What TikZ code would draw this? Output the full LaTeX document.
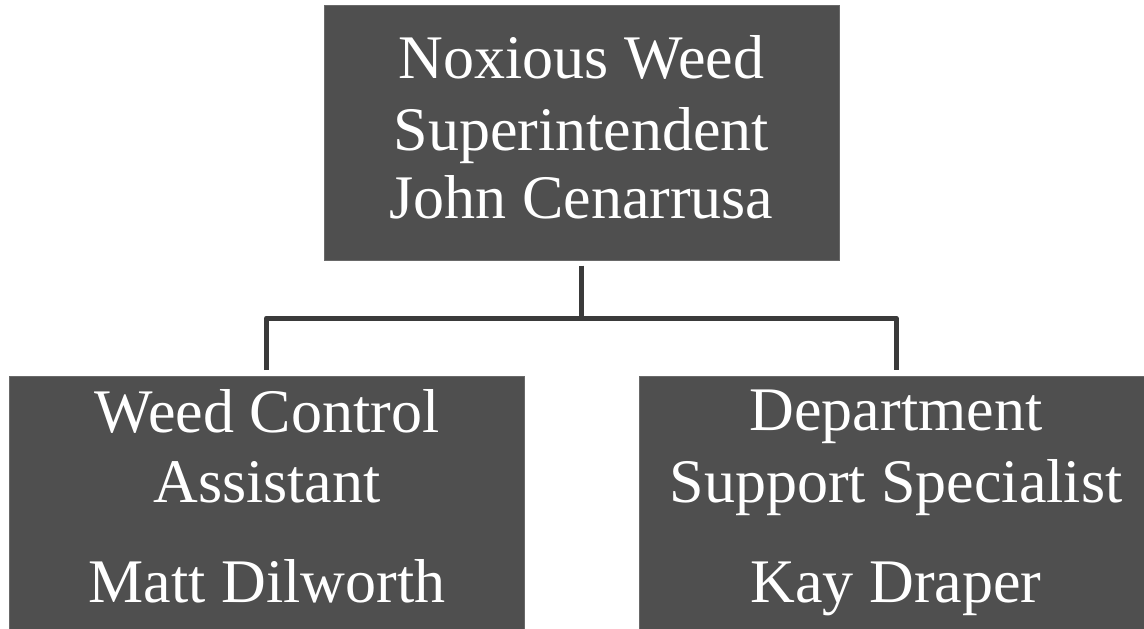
\documentclass[tikz,border=0pt]{standalone}
\usepackage{fontspec}
\setmainfont{Liberation Serif}
\definecolor{boxfill}{RGB}{79,79,79}
\definecolor{boxedge}{RGB}{105,105,105}
\definecolor{linecol}{RGB}{58,58,58}
\begin{document}
\begin{tikzpicture}[x=1pt,y=-1pt,
  orgbox/.style={rectangle, fill=boxfill, draw=boxedge, line width=1pt, inner sep=0pt},
  orgtext/.style={anchor=base, text=white, font=\fontsize{62}{62}\selectfont, inner sep=0pt},
  conn/.style={draw=linecol, line width=5pt, line join=round}]
\useasboundingbox (0,0) rectangle (1144,629);
\node[orgbox, minimum width=515pt, minimum height=255pt] (top) at (581.5,132.5) {};
\node[orgbox, minimum width=515pt, minimum height=254pt] (lft) at (266.5,503.5) {};
\node[orgbox, minimum width=506pt, minimum height=254pt] (rgt) at (892,503.5) {};
% texts
\node[orgtext] (t1) at (581.5,78) {Noxious Weed};
\node[orgtext] (t2) at (581.5,150) {Superintendent};
\node[orgtext] (t3) at (581.5,218) {John Cenarrusa};
\node[orgtext] (l1) at (267,432) {Weed Control};
\node[orgtext] (l2) at (267,502) {Assistant};
\node[orgtext] (l3) at (267,602) {Matt Dilworth};
\node[orgtext] (r1) at (896,430) {Department};
\node[orgtext] (r2) at (896,502) {Support Specialist};
\node[orgtext] (r3) at (896,602) {Kay Draper};
% connectors
\coordinate (j) at (581.5,318);
\draw[conn] ([yshift=-5pt]top.south) -- (j);
\draw[conn] ([yshift=6pt]lft.north) |- (j) -| ([xshift=4pt,yshift=6pt]rgt.north);
\end{tikzpicture}
\end{document}
